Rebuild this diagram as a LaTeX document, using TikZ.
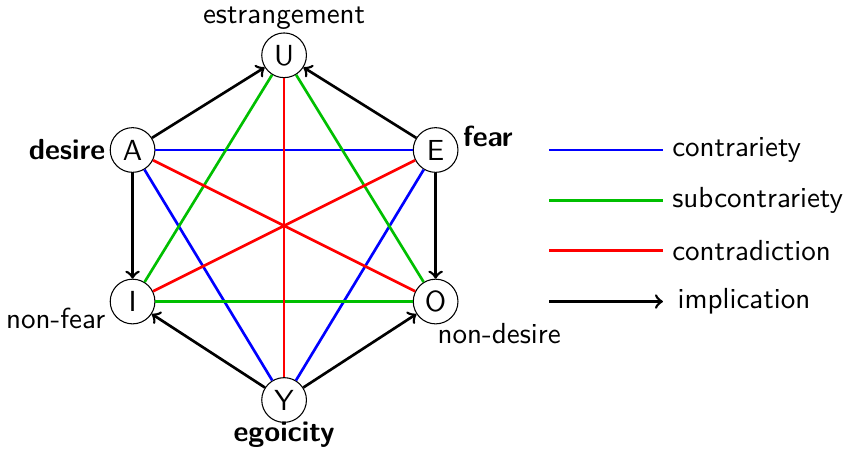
\documentclass[tikz,border=0pt]{standalone}
\usetikzlibrary{positioning}
\begin{document}
\begin{tikzpicture}[
    font=\sffamily\fontsize{10.9}{13}\selectfont,
    vert/.style={draw, circle, fill=white, inner sep=0pt, minimum size=0.59cm},
    tag/.style={inner sep=1pt},
    contr/.style={line width=1pt, blue},
    subc/.style={line width=1pt, green!75!black},
    contd/.style={line width=1pt, red},
    impl/.style={->, line width=1pt, black}
  ]
    \useasboundingbox (-3.75,2.98) rectangle (7.43,-2.94);

    % hexagon of oppositions
    \node[vert] (U) at (0,2.25) {U};
    \node[vert] (A) at (-2,1) {A};
    \node[vert] (E) at (2,1) {E};
    \node[vert] (I) at (-2,-1) {I};
    \node[vert] (O) at (2,-1) {O};
    \node[vert] (Y) at (0,-2.3) {Y};

    \node[tag, above=0pt of U] (lU) {estrangement};
    \node[tag, left=0.5pt of A] (lA) {\bfseries desire};
    \node[tag, right=0.5pt of E, yshift=5pt] (lE) {\bfseries fear};
    \node[tag, left=0.5pt of I, yshift=-6.5pt] (lI) {non-fear};
    \node[tag, below right=1pt and -6.5pt of O] (lO) {non-desire};
    \node[tag, below=-1.5pt of Y] (lY) {\bfseries egoicity};

    \draw[contr] (A) -- (E);
    \draw[contr] (A) -- (Y);
    \draw[contr] (E) -- (Y);
    \draw[subc] (U) -- (I);
    \draw[subc] (U) -- (O);
    \draw[subc] (I) -- (O);
    \draw[contd] (U) -- (Y);
    \draw[contd] (A) -- (O);
    \draw[contd] (E) -- (I);

    \draw[impl] (A) -- (U);
    \draw[impl] (E) -- (U);
    \draw[impl] (A) -- (I);
    \draw[impl] (E) -- (O);
    \draw[impl] (Y) -- (I);
    \draw[impl] (Y) -- (O);

    % legend
    \coordinate (k1) at (3.5,1);
    \coordinate (k1e) at (5,1);
    \coordinate (k2) at (3.5,0.33);
    \coordinate (k2e) at (5,0.33);
    \coordinate (k3) at (3.5,-0.33);
    \coordinate (k3e) at (5,-0.33);
    \coordinate (k4) at (3.5,-1);
    \coordinate (k4e) at (5,-1);

    \node[right=0pt of k1e] (t1) {contrariety};
    \node[right=0pt of k2e] (t2) {subcontrariety};
    \node[right=0pt of k3e] (t3) {contradiction};
    \node[right=2pt of k4e] (t4) {implication};

    \draw[contr] (k1) -- (k1e);
    \draw[subc] (k2) -- (k2e);
    \draw[contd] (k3) -- (k3e);
    \draw[impl] (k4) -- (k4e);
  \end{tikzpicture}
\end{document}
